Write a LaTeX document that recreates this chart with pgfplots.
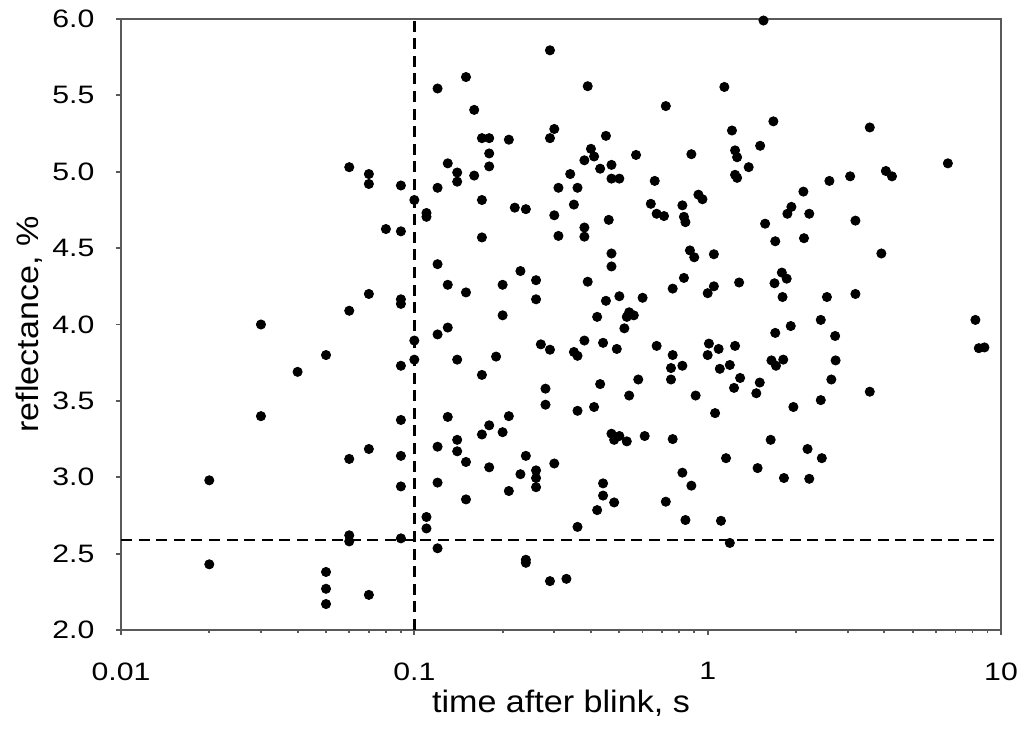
\documentclass[border=0pt]{standalone}
\usepackage{fontspec}
\setmainfont{Liberation Sans}
\newfontfamily\tickfont{Liberation Sans}[FakeStretch=1.2]
\newfontfamily\labelfont{Liberation Sans}[FakeStretch=1.1]
\usepackage{pgfplots}
\usepackage{pgfplotstable}
\pgfplotsset{compat=1.18}
\definecolor{axisgray}{RGB}{89,89,89}

% reflectance vs time after blink
\pgfplotstableread{
x y
0.02 2.98
0.02 2.43
0.03 4.00
0.03 3.40
0.04 3.69
0.05 3.80
0.05 2.38
0.05 2.27
0.05 2.17
0.06 5.03
0.06 4.09
0.06 3.12
0.06 2.62
0.06 2.58
0.07 4.985
0.07 4.92
0.07 4.20
0.07 3.185
0.07 2.23
0.08 4.625
0.09 4.91
0.09 4.61
0.09 4.165
0.09 4.135
0.09 3.73
0.09 3.375
0.09 3.14
0.09 2.94
0.09 2.60
0.10 4.815
0.10 3.895
0.10 3.77
0.11 4.73
0.11 4.705
0.11 2.74
0.11 2.665
0.12 5.545
0.12 4.895
0.12 4.395
0.12 3.935
0.12 3.20
0.12 2.965
0.12 2.535
0.13 5.055
0.13 4.26
0.13 3.98
0.13 3.395
0.14 4.995
0.14 4.935
0.14 3.77
0.14 3.245
0.14 3.17
0.15 5.62
0.15 4.21
0.15 3.10
0.15 2.855
0.16 5.405
0.16 4.975
0.17 5.22
0.17 4.815
0.17 4.57
0.17 3.67
0.17 3.28
0.18 5.22
0.18 5.12
0.18 5.035
0.18 3.34
0.18 3.065
0.19 3.79
0.20 4.26
0.20 4.06
0.20 3.295
0.21 5.21
0.21 3.40
0.21 2.91
0.22 4.765
0.23 4.35
0.23 3.02
0.24 4.755
0.24 3.14
0.24 2.46
0.24 2.44
0.26 4.29
0.26 4.165
0.26 3.045
0.26 2.995
0.26 2.935
0.27 3.87
0.28 3.58
0.28 3.475
0.29 5.795
0.29 5.22
0.29 3.835
0.29 2.32
0.30 5.28
0.30 4.715
0.30 3.09
0.31 4.895
0.31 4.58
0.33 2.335
0.34 4.985
0.35 4.785
0.35 3.82
0.36 4.895
0.36 3.795
0.36 3.435
0.36 2.675
0.38 5.075
0.38 4.635
0.38 4.575
0.38 3.895
0.39 5.56
0.39 4.28
0.40 5.15
0.41 5.10
0.41 3.46
0.42 4.05
0.42 2.785
0.43 5.02
0.43 3.61
0.44 3.88
0.44 2.96
0.44 2.88
0.45 5.235
0.45 4.155
0.46 4.685
0.47 5.045
0.47 4.955
0.47 4.465
0.47 4.38
0.47 3.285
0.48 3.245
0.48 2.835
0.49 3.84
0.50 4.955
0.50 4.185
0.50 3.27
0.52 3.975
0.53 4.05
0.53 3.235
0.54 4.08
0.54 3.535
0.56 4.06
0.57 5.11
0.58 3.64
0.60 4.175
0.61 3.27
0.64 4.79
0.66 4.94
0.67 4.725
0.67 3.86
0.71 4.71
0.72 5.43
0.72 2.84
0.75 3.715
0.75 3.64
0.76 4.235
0.76 3.80
0.76 3.25
0.82 4.78
0.82 3.73
0.82 3.03
0.83 4.705
0.83 4.305
0.84 4.67
0.84 2.72
0.87 4.485
0.88 5.115
0.88 2.945
0.90 4.44
0.91 3.535
0.93 4.85
0.96 4.82
1.00 4.205
1.01 3.875
1.00 3.80
1.05 4.46
1.05 4.25
1.06 3.42
1.09 3.84
1.10 3.71
1.11 2.715
1.14 5.555
1.155 3.125
1.19 3.735
1.19 2.57
1.21 5.27
1.23 3.585
1.24 5.14
1.24 4.98
1.24 3.86
1.26 5.095
1.26 4.96
1.28 4.275
1.29 3.65
1.38 5.03
1.465 3.55
1.48 3.06
1.505 3.62
1.51 5.17
1.55 5.99
1.57 4.66
1.64 3.245
1.65 3.765
1.675 5.33
1.69 4.27
1.70 4.545
1.70 3.945
1.71 3.73
1.79 4.34
1.80 4.18
1.81 3.77
1.82 2.995
1.86 4.30
1.87 4.725
1.92 3.99
1.93 4.77
1.96 3.46
2.12 4.87
2.13 4.565
2.19 3.185
2.22 4.725
2.22 2.99
2.43 4.03
2.43 3.505
2.45 3.125
2.55 4.18
2.60 4.94
2.64 3.64
2.72 3.925
2.73 3.765
3.06 4.97
3.19 4.68
3.19 4.20
3.57 5.29
3.57 3.56
3.91 4.465
4.05 5.005
4.25 4.97
6.59 5.055
8.18 4.03
8.40 3.845
8.78 3.85
}\blinkdata

\begin{document}
\begin{tikzpicture}
\begin{axis}[
  name=ax,
  scale only axis,
  width=440pt, height=305.5pt,
  xmode=log,
  xmin=0.01, xmax=10,
  ymin=2, ymax=6,
  xtick={0.01,0.1,1,10},
  xticklabels={0.01,0.1,1,10},
  ytick={2,2.5,...,6},
  ytick style={draw=axisgray, line width=0.9pt},
  xtick style={draw=axisgray, line width=0.9pt},
  tick align=outside,
  tick pos=left,
  major tick length=2.6pt,
  minor tick length=1.6pt,
  axis line style={draw=axisgray, line width=0.9pt},
  clip=false,
  /pgf/number format/assume math mode=true,
  tick label style={font=\tickfont\fontsize{12.6}{14}\selectfont, inner sep=0pt},
  xticklabel style={anchor=north, yshift=-13.5pt},
  yticklabel style={anchor=east, xshift=-10.5pt,
    /pgf/number format/.cd, fixed, fixed zerofill, precision=1},
  xlabel={time after blink, s},
  ylabel={reflectance, \%},
  every axis x label/.style={at={(axis description cs:0.5,-0.1342)}, anchor=base,
    font=\labelfont\fontsize{15.5}{18}\selectfont, inner sep=0pt},
  every axis y label/.style={at={(axis description cs:-0.094,0.5)}, rotate=90, anchor=base,
    font=\labelfont\fontsize{15.5}{18}\selectfont, inner sep=0pt},
]
\addplot[black, line width=1.3pt, dash pattern=on 5.5pt off 3.3pt] coordinates {(0.1,2) (0.1,6)};
\addplot[black, line width=1.3pt, dash pattern=on 5.5pt off 3.3pt] coordinates {(0.01,2.59) (9.9,2.59)};
\addplot[only marks, mark=*, mark size=2.3pt, black] table[x=x, y=y] {\blinkdata};
\end{axis}
\pgfresetboundingbox
\path ([xshift=-60.5pt,yshift=-52pt]ax.south west) rectangle ([xshift=11.5pt,yshift=9.5pt]ax.north east);
\end{tikzpicture}
\end{document}
